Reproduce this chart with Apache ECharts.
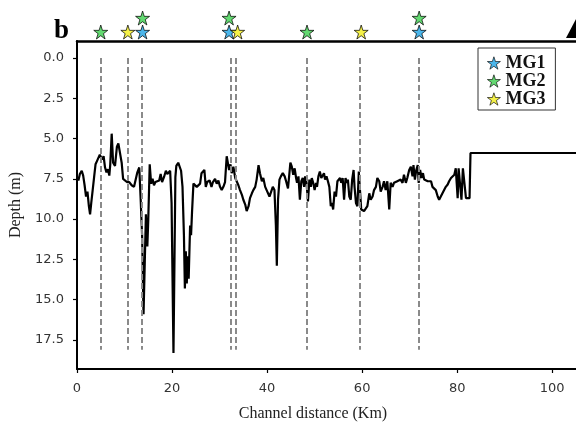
<!DOCTYPE html>
<html><head><meta charset="utf-8">
<script src="https://cdn.jsdelivr.net/npm/echarts@6/dist/echarts.min.js"></script>
<style>html,body{margin:0;padding:0;background:#fff}#c{width:576px;height:425px}</style>
</head><body><div id="c"></div>
<script>
const distanceKm = [0.0,0.3,0.6,1.0,1.3,1.6,1.9,2.2,2.5,2.75,3.0,3.3,3.6,3.9,4.2,4.5,4.8,5.0,5.3,5.6,5.9,6.2,6.5,6.8,7.0,7.3,7.6,8.0,8.4,8.7,9.0,9.4,9.7,10.1,10.5,11.0,11.5,12.0,12.3,12.7,13.1,13.4,13.7,14.0,14.3,14.5,14.8,15.0,15.3,15.6,15.9,16.2,16.5,16.9,17.3,17.6,17.9,18.3,18.7,19.0,19.3,19.6,19.9,20.3,20.7,20.9,21.3,21.6,21.9,22.2,22.5,22.7,22.9,23.1,23.3,23.5,23.8,24.0,24.2,24.5,24.8,25.2,25.5,25.9,26.2,26.6,26.8,27.1,27.4,27.6,27.9,28.3,28.6,29.05,29.4,29.75,30.1,30.45,30.8,31.15,31.5,31.7,32.0,32.3,32.55,32.9,33.3,33.6,33.96,34.3,34.7,35.0,35.4,35.7,36.1,36.4,36.8,37.1,37.5,37.8,38.2,38.5,38.9,39.2,39.6,39.9,40.2,40.5,40.85,41.2,41.55,41.85,42.05,42.3,42.6,42.9,43.3,43.7,44.0,44.4,44.7,44.9,45.2,45.5,45.8,46.1,46.3,46.6,46.9,47.2,47.5,47.8,48.0,48.3,48.6,48.9,49.2,49.4,49.7,50.0,50.3,50.5,50.8,51.1,51.4,51.7,51.97,52.2,52.5,52.8,53.1,53.4,53.65,53.9,54.2,54.5,54.8,55.1,55.35,55.6,55.9,56.2,56.5,56.8,57.0,57.3,57.6,57.9,58.2,58.4,58.7,59.0,59.3,59.5,59.8,60.1,60.4,60.75,61.1,61.5,61.8,62.2,62.5,62.9,63.2,63.6,63.9,64.3,64.6,64.95,65.3,65.7,66.0,66.4,66.7,67.05,67.4,67.75,68.1,68.5,68.8,69.2,69.5,69.9,70.25,70.6,70.8,71.1,71.4,71.7,71.9,72.2,72.5,72.8,73.06,73.4,73.8,74.1,74.5,74.8,75.2,75.5,75.9,76.2,76.6,76.9,77.3,77.6,78.0,78.3,78.7,79.0,79.4,79.7,80.1,80.3,80.65,80.9,81.2,81.5,81.85,82.2,82.6,82.8,106];
const depthM = [7.4,7.6,7.2,7.0,7.3,7.9,8.6,8.3,9.2,9.7,9.0,8.2,7.4,6.6,6.4,6.5,6.0,5.9,6.3,6.1,6.8,7.1,6.9,7.3,6.6,4.7,6.5,6.7,5.5,5.3,5.2,6.5,7.5,7.5,7.7,7.7,7.9,8.0,8.1,7.1,6.8,8.8,11.0,15.9,15.9,9.7,11.7,10.0,6.6,7.8,7.5,7.9,7.7,7.8,7.6,7.2,7.7,7.4,7.0,7.2,7.1,7.0,9.0,18.3,7.4,6.7,6.5,6.6,7.0,8.0,11.0,14.3,12.0,14.0,12.3,13.7,10.4,11.0,9.6,7.8,7.7,8.0,8.0,7.8,7.15,7.15,6.95,8.0,7.7,7.8,7.6,8.0,7.7,7.5,7.8,7.6,8.0,8.2,8.0,7.7,6.1,6.2,6.95,6.6,7.15,6.75,7.45,7.55,7.9,8.2,8.5,8.8,9.1,9.5,9.2,8.7,8.4,8.2,8.0,7.55,6.65,7.15,7.65,7.45,8.0,8.2,8.1,8.6,8.7,8.0,8.2,10.4,12.9,8.8,7.55,7.35,7.15,7.35,7.65,8.1,8.0,6.5,6.75,7.25,6.85,7.45,7.75,7.35,8.8,7.65,7.45,8.0,7.35,7.75,8.9,7.55,8.0,7.45,7.75,8.2,7.75,8.0,7.35,7.05,7.45,7.55,7.15,7.55,7.35,7.65,8.0,9.2,9.0,9.4,8.3,8.6,7.65,7.55,7.45,7.75,7.45,8.8,7.45,7.75,7.55,8.6,8.8,7.55,6.95,8.0,9.0,9.2,7.05,8.0,9.4,9.4,9.5,9.6,9.2,8.4,8.8,8.6,8.2,8.0,7.45,7.65,8.3,8.0,7.65,8.2,7.65,9.4,7.75,8.0,7.75,7.85,7.65,7.75,7.55,7.75,7.25,7.75,7.45,6.95,6.75,7.35,6.65,7.55,6.95,6.65,7.75,6.95,7.45,7.15,7.55,7.65,7.65,7.75,7.65,8.0,8.05,8.2,8.6,8.8,8.9,8.4,8.3,8.0,7.85,7.65,7.45,7.55,7.25,6.85,8.7,6.85,6.75,8.8,6.85,6.85,8.7,8.6,8.7,5.9,5.9];
const siteKm = [4.9, 10.6, 13.7, 32.3, 33.3, 48.3, 59.5, 71.9];
const siteDepthRange = [0, 18.1];
const mg1Km = [13.8, 32.0, 72.0];
const mg1Row = [0, 0, 0];
const mg2Km = [5.0, 13.8, 32.0, 48.4, 72.0];
const mg2Row = [0, 1, 1, 0, 1];
const mg3Km = [10.7, 33.8, 59.8];
const mg3Row = [0, 0, 0];
const xTicks = [0, 20, 40, 60, 80, 100];
const yTicks = [0, 2.5, 5, 7.5, 10, 12.5, 15, 17.5];
const groupNames = ['MG1', 'MG2', 'MG3'];
const groupColors = ['#1ea4e6', '#3ccf4e', '#f2ee1a'];

const STAR = 'path://M50,2 L61.8,38.2 L99.5,38.2 L69,60.5 L80.6,96.7 L50,74.3 L19.4,96.7 L31,60.5 L0.5,38.2 L38.2,38.2 Z';
const XMIN = 0, XMAX = 105;
const pair = (xs, ys) => xs.map((x, i) => [x, ys[i]]);

function starSeries(name, xs, rows, color) {
  return {
    type: 'scatter', name, xAxisIndex: 2, yAxisIndex: 1,
    data: pair(xs, rows), symbol: STAR, symbolSize: 14, clip: false,
    itemStyle: { color, borderColor: '#000', borderWidth: 0.9 }, z: 5
  };
}

const chart = echarts.init(document.getElementById('c'), null, { renderer: 'canvas' });
chart.setOption({
  animation: false,
  backgroundColor: '#fff',
  grid: [
    { left: 77, right: 0, top: 41, bottom: 56, outerBoundsMode: 'none', containLabel: false },
    { left: 77, right: 0, top: 18, height: 14, outerBoundsMode: 'none', containLabel: false }
  ],
  xAxis: [
    { type: 'value', gridIndex: 0, min: XMIN, max: XMAX, position: 'bottom',
      axisLine: { onZero: false, lineStyle: { color: '#000', width: 2 } },
      axisTick: { customValues: xTicks, length: 4, lineStyle: { color: '#000', width: 1.2 } },
      axisLabel: { customValues: xTicks, margin: 13, color: '#333', fontFamily: 'DejaVu Sans', fontSize: 13 },
      splitLine: { show: false } },
    { type: 'value', gridIndex: 0, min: XMIN, max: XMAX, position: 'top',
      axisLine: { show: true, onZero: false, lineStyle: { color: '#000', width: 2.5 } },
      axisTick: { show: false }, axisLabel: { show: false }, splitLine: { show: false } },
    { type: 'value', gridIndex: 1, min: XMIN, max: XMAX, show: false }
  ],
  yAxis: [
    { type: 'value', gridIndex: 0, inverse: true, min: -1.05, max: 19.3,
      name: 'Depth (m)', nameLocation: 'middle', nameGap: 51,
      nameTextStyle: { fontFamily: 'Liberation Serif', fontSize: 16, color: '#222' },
      axisLine: { show: true, onZero: false, lineStyle: { color: '#000', width: 2 } },
      axisTick: { customValues: yTicks, length: 4, lineStyle: { color: '#000', width: 1.2 } },
      axisLabel: { customValues: yTicks, margin: 13, color: '#333', fontFamily: 'DejaVu Sans', fontSize: 13,
        formatter: v => v.toFixed(1) },
      splitLine: { show: false } },
    { type: 'value', gridIndex: 1, min: 0, max: 1, show: false }
  ],
  legend: {
    orient: 'vertical', left: 478, top: 48,
    data: groupNames.map((n, i) => ({ name: n, icon: STAR,
      itemStyle: { color: groupColors[i], borderColor: '#000', borderWidth: 0.8 } })),
    padding: [6, 10, 2, 9], itemGap: 0, itemWidth: 13, itemHeight: 13,
    borderColor: '#333', borderWidth: 1, backgroundColor: '#fff',
    textStyle: { fontFamily: 'Liberation Serif', fontWeight: 'bold', fontSize: 18, lineHeight: 15, color: '#111' }
  },
  series: [
    { type: 'line', name: 'depth', xAxisIndex: 0, yAxisIndex: 0,
      data: pair(distanceKm, depthM), symbol: 'none',
      lineStyle: { color: '#000', width: 2.2 }, z: 3,
      markLine: { silent: true, symbol: ['none', 'none'], label: { show: false },
        lineStyle: { color: '#8a8a8a', width: 2, type: [6, 3] },
        data: siteKm.map(x => [{ coord: [x, siteDepthRange[0]] }, { coord: [x, siteDepthRange[1]] }]) } },
    starSeries(groupNames[0], mg1Km, mg1Row, groupColors[0]),
    starSeries(groupNames[1], mg2Km, mg2Row, groupColors[1]),
    starSeries(groupNames[2], mg3Km, mg3Row, groupColors[2])
  ],
  graphic: [
    { type: 'text', left: 54, top: 18, style: { text: 'b', font: 'bold 27px "Liberation Serif"', fill: '#000' } },
    { type: 'text', x: 313, y: 414, style: { text: 'Channel distance (Km)', font: '16px "Liberation Serif"', fill: '#222', textAlign: 'center', textVerticalAlign: 'middle' } },
    { type: 'polygon', shape: { points: [[566, 38], [576, 38], [576, 19]] }, style: { fill: '#000' } }
  ]
});
</script></body></html>
